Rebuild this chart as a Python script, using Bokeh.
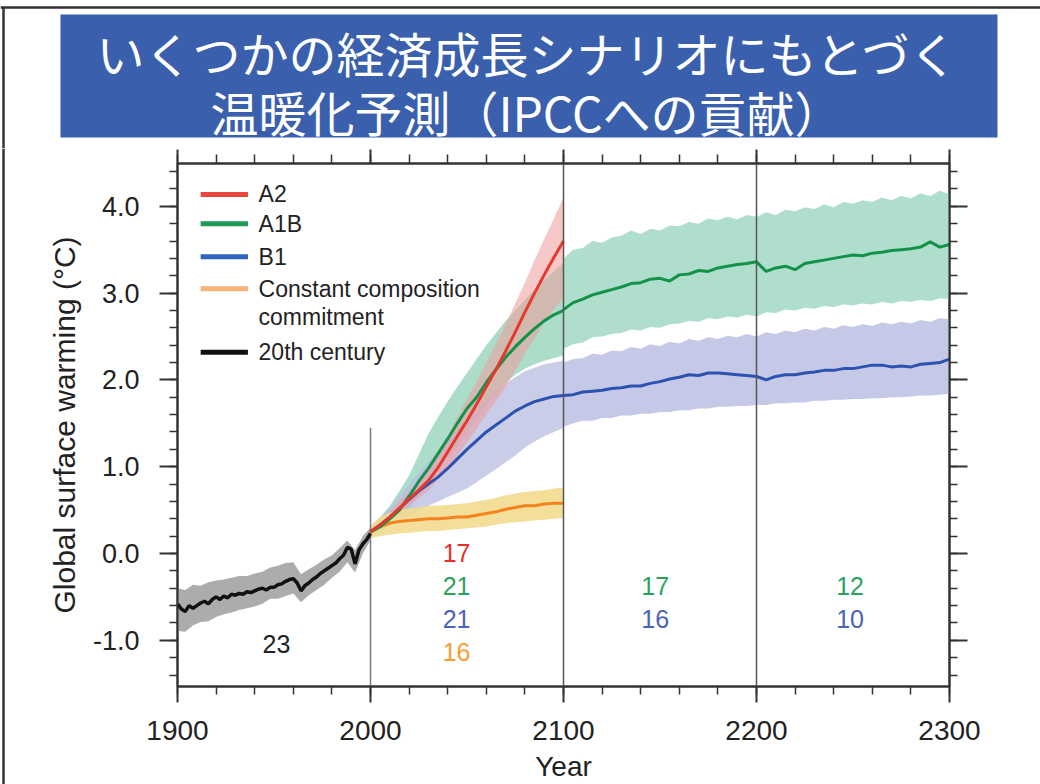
from bokeh.plotting import figure
from bokeh.models import (Range1d, SingleIntervalTicker, LinearAxis, PrintfTickFormatter, Span,
                          CustomLabelingPolicy)
from bokeh.layouts import column, row
from bokeh.embed import file_html
from bokeh.resources import INLINE
from bokeh.core.properties import value

# ---------------- data ----------------
title_lines = ["いくつかの経済成長シナリオにもとづく", "温暖化予測（IPCCへの貢献）"]

years_20c = list(range(1900, 2001, 2))
temp_20c = [-0.58, -0.64, -0.67, -0.60, -0.63, -0.60, -0.57, -0.55, -0.58, -0.53,
            -0.50, -0.53, -0.49, -0.51, -0.47, -0.48, -0.46, -0.47, -0.44, -0.45,
            -0.43, -0.41, -0.40, -0.42, -0.39, -0.39, -0.36, -0.35, -0.32, -0.30,
            -0.29, -0.34, -0.43, -0.37, -0.34, -0.30, -0.27, -0.23, -0.20, -0.17,
            -0.14, -0.11, -0.06, -0.02, 0.07, 0.05, -0.12, 0.04, 0.11, 0.16, 0.23]

band_years_20c = list(range(1900, 2001, 4))
band_hi_20c = [-0.40, -0.42, -0.36, -0.37, -0.33, -0.31, -0.30, -0.28, -0.26, -0.26,
               -0.23, -0.21, -0.16, -0.14, -0.11, -0.10, -0.24, -0.18, -0.13, -0.07,
               -0.02, 0.06, 0.15, 0.04, 0.20, 0.30]
band_lo_20c = [-0.89, -0.90, -0.83, -0.79, -0.78, -0.73, -0.70, -0.68, -0.65, -0.63,
               -0.61, -0.58, -0.52, -0.52, -0.49, -0.46, -0.56, -0.48, -0.42, -0.36,
               -0.28, -0.21, -0.10, -0.22, 0.00, 0.15]

years_21c = list(range(2000, 2101, 5))
a2 = [0.25, 0.33, 0.42, 0.52, 0.63, 0.73, 0.84, 0.99, 1.17, 1.35, 1.53,
      1.72, 1.92, 2.12, 2.33, 2.55, 2.78, 3.00, 3.21, 3.41, 3.60]
a2_lo = [0.20, 0.28, 0.36, 0.45, 0.55, 0.64, 0.73, 0.85, 0.98, 1.13, 1.28,
         1.44, 1.60, 1.76, 1.92, 2.11, 2.30, 2.48, 2.66, 2.81, 2.95]
a2_hi = [0.30, 0.39, 0.48, 0.60, 0.72, 0.84, 0.96, 1.16, 1.36, 1.57, 1.78,
         1.98, 2.20, 2.42, 2.64, 2.88, 3.12, 3.38, 3.62, 3.86, 4.10]
a1b = [0.25, 0.31, 0.40, 0.50, 0.66, 0.83, 0.98, 1.15, 1.32, 1.50, 1.67,
       1.80, 1.97, 2.12, 2.26, 2.38, 2.49, 2.59, 2.68, 2.75, 2.80]
a1b_lo = [0.20, 0.26, 0.33, 0.42, 0.52, 0.66, 0.80, 0.95, 1.10, 1.23, 1.37,
          1.54, 1.70, 1.84, 1.97, 2.06, 2.13, 2.18, 2.22, 2.25, 2.28]
a1b_hi = [0.30, 0.42, 0.55, 0.72, 0.90, 1.14, 1.38, 1.57, 1.75, 1.92, 2.08,
          2.24, 2.40, 2.54, 2.68, 2.80, 2.92, 3.04, 3.15, 3.25, 3.35]
b1 = [0.25, 0.33, 0.42, 0.52, 0.62, 0.72, 0.80, 0.88, 0.98, 1.09, 1.20,
      1.30, 1.40, 1.48, 1.56, 1.64, 1.70, 1.75, 1.78, 1.81, 1.82]
b1_lo = [0.20, 0.26, 0.32, 0.38, 0.43, 0.49, 0.55, 0.60, 0.65, 0.70, 0.75,
         0.82, 0.90, 0.97, 1.05, 1.13, 1.22, 1.29, 1.35, 1.40, 1.45]
b1_hi = [0.30, 0.41, 0.52, 0.66, 0.80, 0.93, 1.06, 1.18, 1.30, 1.43, 1.55,
         1.67, 1.78, 1.87, 1.96, 2.03, 2.10, 2.14, 2.18, 2.20, 2.22]
commit = [0.25, 0.31, 0.35, 0.37, 0.38, 0.39, 0.40, 0.40, 0.41, 0.42, 0.42,
          0.44, 0.46, 0.48, 0.51, 0.53, 0.55, 0.55, 0.57, 0.58, 0.58]
commit_lo = [0.18, 0.20, 0.22, 0.23, 0.24, 0.25, 0.26, 0.26, 0.27, 0.28, 0.29,
             0.30, 0.31, 0.33, 0.35, 0.36, 0.37, 0.38, 0.39, 0.40, 0.41]
commit_hi = [0.32, 0.42, 0.47, 0.50, 0.52, 0.53, 0.55, 0.55, 0.56, 0.57, 0.58,
             0.60, 0.62, 0.64, 0.67, 0.69, 0.71, 0.72, 0.73, 0.75, 0.76]

years_ext = list(range(2100, 2301, 5))
a1b_ext = [2.81, 2.89, 2.93, 2.98, 3.01, 3.04, 3.07, 3.11, 3.12, 3.16,
           3.17, 3.14, 3.21, 3.22, 3.26, 3.25, 3.29, 3.31, 3.33, 3.34,
           3.36, 3.25, 3.29, 3.31, 3.27, 3.34, 3.36, 3.38, 3.40, 3.42,
           3.44, 3.43, 3.46, 3.47, 3.49, 3.50, 3.51, 3.53, 3.59, 3.53, 3.56]
a1b_ext_hi = [3.40, 3.50, 3.52, 3.60, 3.58, 3.64, 3.66, 3.72, 3.68, 3.74,
              3.72, 3.78, 3.77, 3.82, 3.80, 3.86, 3.84, 3.88, 3.85, 3.90,
              3.88, 3.93, 3.90, 3.96, 3.94, 3.99, 3.97, 4.02, 3.99, 4.05,
              4.03, 4.07, 4.05, 4.10, 4.07, 4.12, 4.09, 4.15, 4.12, 4.18, 4.14]
a1b_ext_lo = [2.36, 2.41, 2.43, 2.49, 2.50, 2.53, 2.54, 2.58, 2.57, 2.61,
              2.60, 2.64, 2.65, 2.68, 2.67, 2.71, 2.70, 2.73, 2.72, 2.75,
              2.73, 2.78, 2.77, 2.81, 2.80, 2.83, 2.82, 2.85, 2.84, 2.87,
              2.86, 2.88, 2.87, 2.90, 2.88, 2.91, 2.90, 2.92, 2.91, 2.94, 2.93]
b1_ext = [1.82, 1.83, 1.86, 1.87, 1.88, 1.90, 1.91, 1.93, 1.93, 1.96,
          1.98, 2.01, 2.03, 2.06, 2.05, 2.08, 2.08, 2.07, 2.06, 2.05,
          2.04, 2.00, 2.04, 2.06, 2.06, 2.08, 2.09, 2.11, 2.11, 2.13,
          2.13, 2.15, 2.17, 2.17, 2.15, 2.16, 2.15, 2.18, 2.19, 2.20, 2.24]
b1_ext_hi = [2.20, 2.24, 2.25, 2.30, 2.29, 2.34, 2.33, 2.38, 2.36, 2.41,
             2.39, 2.44, 2.42, 2.47, 2.45, 2.49, 2.47, 2.51, 2.49, 2.53,
             2.50, 2.55, 2.53, 2.57, 2.55, 2.59, 2.57, 2.61, 2.59, 2.63,
             2.61, 2.64, 2.62, 2.66, 2.64, 2.67, 2.65, 2.69, 2.67, 2.71, 2.70]
b1_ext_lo = [1.46, 1.50, 1.53, 1.53, 1.56, 1.56, 1.59, 1.59, 1.61, 1.61,
             1.63, 1.63, 1.65, 1.65, 1.67, 1.67, 1.69, 1.69, 1.70, 1.70,
             1.71, 1.71, 1.73, 1.73, 1.74, 1.74, 1.76, 1.76, 1.77, 1.77,
             1.78, 1.78, 1.79, 1.79, 1.80, 1.80, 1.81, 1.82, 1.82, 1.83, 1.84]

legend_labels = ["A2", "A1B", "B1", "Constant composition", "commitment", "20th century"]
legend_colors = ["#e8453c", "#1e9a55", "#2e63c0", "#f7b27a", None, "#111111"]

model_counts = ["23", "17", "21", "21", "16", "17", "16", "12", "10"]
count_colors = ["#222222", "#e8302a", "#2ca25f", "#4a64b8", "#f5a030",
                "#2ca25f", "#4a64b8", "#2ca25f", "#4a64b8"]

# ---------------- layout constants ----------------
W = 1040
TITLE_H = 148
CHART_H = 784 - TITLE_H
STRIP_W = 6
FONT_NAME = "Liberation Sans"
FONT = value(FONT_NAME)

# ---------------- title ----------------
t = figure(width=W, height=TITLE_H, x_range=Range1d(0, W), y_range=Range1d(TITLE_H, 0),
           output_backend="svg", toolbar_location=None, min_border=0)
t.frame_align = False
t.axis.visible = False
t.grid.visible = False
t.outline_line_color = None
t.background_fill_color = "white"
t.line([0, W], [7, 7], line_width=2.5, line_color="#333333")
t.line([3, 3], [7, TITLE_H], line_width=2.5, line_color="#333333")
t.quad(left=[60], right=[997], top=[14], bottom=[137], fill_color="#3a5fad", line_color=None)
t.text(x=[528, 526], y=[51, 110], text=title_lines, text_font=value("Noto Sans CJK JP"),
       text_font_size="48px", text_color="white", text_align="center", text_baseline="middle")

# ---------------- left border strip ----------------
s = figure(width=STRIP_W, height=CHART_H, x_range=Range1d(0, STRIP_W), y_range=Range1d(0, CHART_H),
           output_backend="svg", toolbar_location=None, min_border=0)
s.frame_align = False
s.axis.visible = False
s.grid.visible = False
s.outline_line_color = None
s.line([3, 3], [0, CHART_H], line_width=2.5, line_color="#333333")

# ---------------- chart ----------------
p = figure(width=W - STRIP_W, height=CHART_H, x_range=Range1d(1900, 2300),
           y_range=Range1d(-1.532, 4.493),
           output_backend="svg", toolbar_location=None,
           min_border_left=177 - STRIP_W, min_border_right=W - 949, min_border_top=15,
           min_border_bottom=784 - 686,
           x_axis_label="Year", y_axis_label="Global surface warming (°C)")
p.frame_align = False
p.grid.visible = False
p.outline_line_color = "#333333"
p.outline_line_width = 2

xt = SingleIntervalTicker(interval=100, num_minor_ticks=5)
yt = SingleIntervalTicker(interval=1, num_minor_ticks=5)

def style_axis(ax, tick_out, minor_out):
    ax.axis_line_color = "#333333"
    ax.axis_line_width = 2
    ax.major_tick_line_color = "#333333"
    ax.major_tick_line_width = 2
    ax.minor_tick_line_color = "#333333"
    ax.minor_tick_line_width = 1.5
    ax.major_tick_out = tick_out
    ax.major_tick_in = 0
    ax.minor_tick_out = minor_out
    ax.minor_tick_in = 0

xa = p.xaxis[0]
xa.ticker = xt
style_axis(xa, 16, 8)
xa.major_label_text_font = FONT_NAME
xa.major_label_text_font_size = "28px"
xa.major_label_text_color = "#222222"
xa.major_label_standoff = 18
xa.axis_label_text_font = FONT_NAME
xa.axis_label_text_font_size = "28px"
xa.axis_label_text_font_style = "normal"
xa.axis_label_text_color = "#222222"
xa.axis_label_standoff = 8

ya = p.yaxis[0]
ya.ticker = yt
ya.formatter = PrintfTickFormatter(format="%.1f")
style_axis(ya, 18, 8)
ya.major_label_text_font = FONT_NAME
ya.major_label_text_font_size = "27px"
ya.major_label_text_color = "#222222"
ya.major_label_standoff = 20
ya.axis_label_text_font = FONT_NAME
ya.axis_label_text_font_size = "30px"
ya.axis_label_text_font_style = "normal"
ya.axis_label_text_color = "#222222"
ya.axis_label_standoff = 9

no_labels = CustomLabelingPolicy(code="return new Set()")
top_ax = LinearAxis(ticker=xt, major_label_text_font_size="0px", major_label_standoff=0,
                    major_label_policy=no_labels)
style_axis(top_ax, 14, 9)
p.add_layout(top_ax, "above")
right_ax = LinearAxis(ticker=yt, major_label_text_font_size="0px", major_label_standoff=0,
                      major_label_policy=no_labels)
style_axis(right_ax, 18, 8)
p.add_layout(right_ax, "right")

# bands
p.varea(x=band_years_20c, y1=band_lo_20c, y2=band_hi_20c, fill_color="#a3a3a3", fill_alpha=0.9)
p.varea(x=years_21c, y1=a1b_lo, y2=a1b_hi, fill_color="#a3d9c3", fill_alpha=0.9)
p.varea(x=years_ext, y1=a1b_ext_lo, y2=a1b_ext_hi, fill_color="#a6dcc6", fill_alpha=0.9)
p.varea(x=years_21c, y1=b1_lo, y2=b1_hi, fill_color="#bcc0e2", fill_alpha=0.8)
p.varea(x=years_ext, y1=b1_ext_lo, y2=b1_ext_hi, fill_color="#bfc2e3", fill_alpha=0.9)
p.varea(x=years_21c, y1=a2_lo, y2=a2_hi, fill_color="#f09a9a", fill_alpha=0.55)
p.varea(x=years_21c, y1=commit_lo, y2=commit_hi, fill_color="#f2dc8e", fill_alpha=0.9)

# dividers
p.segment(x0=[2000], y0=[-1.6], x1=[2000], y1=[1.45], line_color="#6f7f8c", line_width=1.5)
for yr in (2100, 2200):
    p.add_layout(Span(location=yr, dimension="height", line_color="#555555", line_width=1.5))

# lines
p.line(years_20c, temp_20c, line_color="#111111", line_width=3.5)
p.line(years_21c, commit, line_color="#f4821f", line_width=3)
p.line(years_21c, b1, line_color="#2c52b0", line_width=3)
p.line(years_ext, b1_ext, line_color="#2c52b0", line_width=3)
p.line(years_21c, a1b, line_color="#13924a", line_width=3)
p.line(years_ext, a1b_ext, line_color="#13924a", line_width=3)
p.line(years_21c, a2, line_color="#e8382d", line_width=3)

# legend (manual)
leg_y = [4.136, 3.80, 3.42, 3.05, 2.72, 2.32]
for lab, col, yy in zip(legend_labels, legend_colors, leg_y):
    if col is not None:
        p.segment(x0=[1912], y0=[yy], x1=[1936.5], y1=[yy], line_color=col, line_width=5)
p.text(x=[1942] * len(legend_labels), y=leg_y, text=legend_labels, text_font=FONT,
       text_font_size="23px", text_color="#222222", text_align="left", text_baseline="middle")

# model counts
cnt_x = [1951.3, 2044.6, 2044.6, 2044.6, 2044.6, 2147.5, 2147.5, 2248.5, 2248.5]
cnt_y = [-1.04, 0.01, -0.37, -0.75, -1.14, -0.37, -0.75, -0.37, -0.75]
p.text(x=cnt_x, y=cnt_y, text=model_counts, text_color=count_colors, text_font=FONT,
       text_font_size="25px", text_align="center", text_baseline="middle")

layout = column(t, row(s, p, spacing=0), spacing=0)
open("out.html", "w").write(file_html(layout, INLINE))
